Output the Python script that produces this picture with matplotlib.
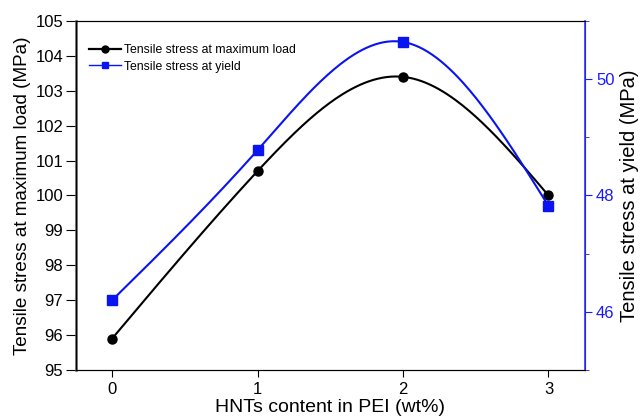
import matplotlib.pyplot as plt
import numpy as np
from matplotlib.ticker import MultipleLocator

plt.rcParams['font.family'] = ['Liberation Sans', 'DejaVu Sans']

hnt = [0, 1, 2, 3]
max_load = [95.9, 100.7, 103.4, 100.0]
yield_stress = [46.2, 48.78, 50.64, 47.82]


def smooth(x, y, n=200):
    # natural cubic spline, just for the drawn connector line
    x = np.asarray(x, float)
    y = np.asarray(y, float)
    h = np.diff(x)
    m = len(x)
    A = np.zeros((m, m))
    b = np.zeros(m)
    A[0, 0] = A[-1, -1] = 1
    for i in range(1, m - 1):
        A[i, i - 1] = h[i - 1]
        A[i, i] = 2 * (h[i - 1] + h[i])
        A[i, i + 1] = h[i]
        b[i] = 6 * ((y[i + 1] - y[i]) / h[i] - (y[i] - y[i - 1]) / h[i - 1])
    M = np.linalg.solve(A, b)
    xs = np.linspace(x[0], x[-1], n)
    k = np.clip(np.searchsorted(x, xs) - 1, 0, m - 2)
    t0 = x[k + 1] - xs
    t1 = xs - x[k]
    hk = h[k]
    ys = (M[k] * t0**3 + M[k + 1] * t1**3) / (6 * hk) \
        + (y[k] / hk - M[k] * hk / 6) * t0 + (y[k + 1] / hk - M[k + 1] * hk / 6) * t1
    return xs, ys


fig = plt.figure(figsize=(6.42, 4.16), dpi=100)
ax = fig.add_axes([0.118, 0.1106, 0.793, 0.8389])
ax2 = ax.twinx()

blue = '#0a14f0'
xs, ys = smooth(hnt, max_load)
ax.plot(xs, ys, color='black', lw=1.5)
ax.plot(hnt, max_load, 'o', color='black', ms=6.5)
xs, ys = smooth(hnt, yield_stress)
ax2.plot(xs, ys, color=blue, lw=1.5)
ax2.plot(hnt, yield_stress, 's', color=blue, ms=6.5)

# legend handles
ax.plot([], [], '-o', color='black', lw=1.6, ms=5, label='Tensile stress at maximum load')
ax.plot([], [], '-s', color=blue, lw=1.0, ms=5, label='Tensile stress at yield')
ax.legend(loc='upper left', bbox_to_anchor=(0.005, 0.965), frameon=False, fontsize=8.8,
          handlelength=2.6, handletextpad=0.2, labelspacing=0.35)

ax.set_xlim(-0.25, 3.25)
ax.set_ylim(95, 105)
ax2.set_ylim(45, 51)
ax.set_xticks(hnt)
ax.yaxis.set_major_locator(MultipleLocator(1))
ax2.yaxis.set_major_locator(MultipleLocator(2))
ax2.yaxis.set_minor_locator(MultipleLocator(1))

ax.tick_params(axis='both', labelsize=12, direction='out')
ax.tick_params(axis='y', length=7, pad=2)
ax.tick_params(axis='x', length=5, pad=4)
ax2.tick_params(axis='y', which='major', labelsize=12, colors='#1a1aff', length=5, pad=3)
ax2.tick_params(axis='y', which='minor', colors='#1a1aff', length=3)
ax2.spines['right'].set_color('#3333ff')
ax2.spines['right'].set_linewidth(1.2)
ax.spines['left'].set_color('#555555')
ax.spines['left'].set_linewidth(1.8)

ax.set_xlabel('HNTs content in PEI (wt%)', fontsize=14, labelpad=1)
ax.set_ylabel('Tensile stress at maximum load (MPa)', fontsize=13.6, labelpad=3)
ax2.set_ylabel('Tensile stress at yield (MPa)', fontsize=14.5, labelpad=4)

fig.savefig('out.png', dpi=100)
